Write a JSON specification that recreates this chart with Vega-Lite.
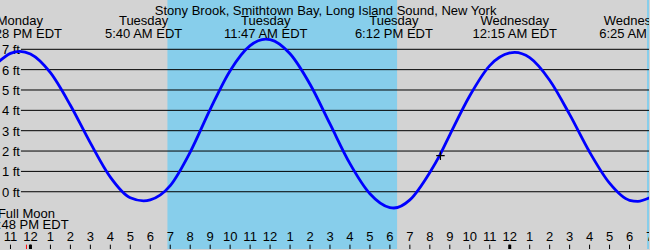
{
  "$schema": "https://vega.github.io/schema/vega-lite/v6.json",
  "width": 650,
  "height": 250,
  "autosize": {"type": "fit", "contains": "padding"},
  "padding": 0,
  "background": "#d3d3d3",
  "config": {
    "view": {"stroke": null, "fill": "#d3d3d3"},
    "text": {"font": "Liberation Sans", "fontSize": 13, "color": "black"}
  },
  "datasets": {
    "tide": [
      {"t": -1.6, "ft": 6.38}, {"t": -1, "ft": 6.8}, {"t": -0.53, "ft": 6.9}, {"t": 0, "ft": 6.77},
      {"t": 1, "ft": 5.85}, {"t": 2, "ft": 4.25}, {"t": 3, "ft": 2.4}, {"t": 4, "ft": 0.72},
      {"t": 5, "ft": -0.3}, {"t": 5.667, "ft": -0.45}, {"t": 6, "ft": -0.4}, {"t": 7, "ft": 0.3},
      {"t": 8, "ft": 1.95}, {"t": 9, "ft": 4.05}, {"t": 10, "ft": 5.95}, {"t": 11, "ft": 7.18},
      {"t": 11.783, "ft": 7.5}, {"t": 12, "ft": 7.48}, {"t": 13, "ft": 6.78}, {"t": 14, "ft": 5.28},
      {"t": 15, "ft": 3.33}, {"t": 16, "ft": 1.38}, {"t": 17, "ft": -0.1}, {"t": 18, "ft": -0.78},
      {"t": 18.2, "ft": -0.8}, {"t": 19, "ft": -0.4}, {"t": 20, "ft": 0.95}, {"t": 20.5, "ft": 1.8},
      {"t": 21, "ft": 2.8}, {"t": 22, "ft": 4.72}, {"t": 23, "ft": 6.2}, {"t": 24, "ft": 6.82},
      {"t": 24.25, "ft": 6.85}, {"t": 25, "ft": 6.59}, {"t": 26, "ft": 5.48}, {"t": 27, "ft": 3.8},
      {"t": 28, "ft": 1.95}, {"t": 29, "ft": 0.42}, {"t": 30, "ft": -0.42}, {"t": 30.417, "ft": -0.47},
      {"t": 31, "ft": -0.3}
    ],
    "daylight": [
      {"start": 6.86, "end": 18.36},
      {"start": 30.875, "end": 31.5}
    ],
    "grid": [
      {"ft": 0, "label": "0 ft"}, {"ft": 1, "label": "1 ft"}, {"ft": 2, "label": "2 ft"}, {"ft": 3, "label": "3 ft"},
      {"ft": 4, "label": "4 ft"}, {"ft": 5, "label": "5 ft"}, {"ft": 6, "label": "6 ft"}, {"ft": 7, "label": "7 ft"}
    ],
    "hours": [
      {"h": -1, "label": "11"}, {"h": 0, "label": "12"}, {"h": 1, "label": "1"}, {"h": 2, "label": "2"},
      {"h": 3, "label": "3"}, {"h": 4, "label": "4"}, {"h": 5, "label": "5"}, {"h": 6, "label": "6"},
      {"h": 7, "label": "7"}, {"h": 8, "label": "8"}, {"h": 9, "label": "9"}, {"h": 10, "label": "10"},
      {"h": 11, "label": "11"}, {"h": 12, "label": "12"}, {"h": 13, "label": "1"}, {"h": 14, "label": "2"},
      {"h": 15, "label": "3"}, {"h": 16, "label": "4"}, {"h": 17, "label": "5"}, {"h": 18, "label": "6"},
      {"h": 19, "label": "7"}, {"h": 20, "label": "8"}, {"h": 21, "label": "9"}, {"h": 22, "label": "10"},
      {"h": 23, "label": "11"}, {"h": 24, "label": "12"}, {"h": 25, "label": "1"}, {"h": 26, "label": "2"},
      {"h": 27, "label": "3"}, {"h": 28, "label": "4"}, {"h": 29, "label": "5"}, {"h": 30, "label": "6"},
      {"h": 31, "label": "7"}
    ],
    "header": [
      {"t": -0.53, "day": "Monday", "time": "11:28 PM EDT"},
      {"t": 5.667, "day": "Tuesday", "time": "5:40 AM EDT"},
      {"t": 11.783, "day": "Tuesday", "time": "11:47 AM EDT"},
      {"t": 18.2, "day": "Tuesday", "time": "6:12 PM EDT"},
      {"t": 24.25, "day": "Wednesday", "time": "12:15 AM EDT"},
      {"t": 30.417, "day": "Wednesday", "time": "6:25 AM EDT"}
    ],
    "moon": [
      {"t": -0.2, "name": "Full Moon", "time": "11:48 PM EDT"}
    ],
    "now": [
      {"t": 20.53, "ft": 1.77}
    ]
  },
  "layer": [
    {
      "data": {"name": "daylight"},
      "mark": {"type": "rect", "color": "#87ceeb", "clip": true},
      "encoding": {
        "x": {"field": "start", "type": "quantitative", "scale": {"domain": [-1.525, 30.975], "nice": false, "zero": false}, "axis": null},
        "x2": {"field": "end"},
        "y": {"datum": 9.423, "type": "quantitative", "scale": {"domain": [-2.814, 9.423], "nice": false, "zero": false}, "axis": null},
        "y2": {"datum": -2.814}
      }
    },
    {
      "data": {"name": "grid"},
      "mark": {"type": "rule", "color": "black", "strokeWidth": 1},
      "encoding": {
        "x": {"datum": -0.475, "type": "quantitative"},
        "x2": {"datum": 30.975},
        "y": {"field": "ft", "type": "quantitative"}
      }
    },
    {
      "data": {"name": "grid"},
      "mark": {"type": "text", "align": "right", "baseline": "middle", "dx": -1, "dy": 1},
      "encoding": {
        "x": {"datum": -0.475, "type": "quantitative"},
        "y": {"field": "ft", "type": "quantitative"},
        "text": {"field": "label"}
      }
    },
    {
      "data": {"name": "tide"},
      "mark": {"type": "line", "color": "#0000ff", "strokeWidth": 2.8, "interpolate": "monotone", "clip": true},
      "encoding": {
        "x": {"field": "t", "type": "quantitative"},
        "y": {"field": "ft", "type": "quantitative"}
      }
    },
    {
      "data": {"name": "now"},
      "mark": {"type": "point", "shape": "M-1,0H1M0,-1V1", "size": 72, "stroke": "black", "strokeWidth": 1.2, "filled": false, "opacity": 1},
      "encoding": {
        "x": {"field": "t", "type": "quantitative"},
        "y": {"field": "ft", "type": "quantitative"}
      }
    },
    {
      "data": {"values": [{"title": "Stony Brook, Smithtown Bay, Long Island Sound, New York"}]},
      "mark": {"type": "text", "align": "center", "baseline": "alphabetic"},
      "encoding": {
        "x": {"datum": 14.78, "type": "quantitative"},
        "y": {"datum": 8.71, "type": "quantitative"},
        "text": {"field": "title"}
      }
    },
    {
      "data": {"name": "header"},
      "mark": {"type": "text", "align": "center", "baseline": "alphabetic", "clip": true},
      "encoding": {
        "x": {"field": "t", "type": "quantitative"},
        "y": {"datum": 8.17, "type": "quantitative"},
        "text": {"field": "day"}
      }
    },
    {
      "data": {"name": "header"},
      "mark": {"type": "text", "align": "center", "baseline": "alphabetic", "clip": true},
      "encoding": {
        "x": {"field": "t", "type": "quantitative"},
        "y": {"datum": 7.54, "type": "quantitative"},
        "text": {"field": "time"}
      }
    },
    {
      "data": {"name": "moon"},
      "mark": {"type": "text", "align": "center", "baseline": "alphabetic", "clip": true},
      "encoding": {
        "x": {"field": "t", "type": "quantitative"},
        "y": {"datum": -1.27, "type": "quantitative"},
        "text": {"field": "name"}
      }
    },
    {
      "data": {"name": "moon"},
      "mark": {"type": "text", "align": "center", "baseline": "alphabetic", "clip": true},
      "encoding": {
        "x": {"field": "t", "type": "quantitative"},
        "y": {"datum": -1.83, "type": "quantitative"},
        "text": {"field": "time"}
      }
    },
    {
      "data": {"name": "moon"},
      "mark": {"type": "rule", "color": "red", "strokeWidth": 1},
      "encoding": {
        "x": {"field": "t", "type": "quantitative"},
        "y": {"datum": -2.6, "type": "quantitative"},
        "y2": {"datum": -2.814}
      }
    },
    {
      "data": {"name": "hours"},
      "mark": {"type": "rule", "color": "black", "strokeWidth": 1, "clip": true},
      "encoding": {
        "x": {"field": "h", "type": "quantitative"},
        "y": {"datum": -2.6, "type": "quantitative"},
        "y2": {"datum": -2.814}
      }
    },
    {
      "data": {"name": "hours"},
      "transform": [{"filter": "datum.h % 24 == 0"}],
      "mark": {"type": "rule", "color": "black", "strokeWidth": 3, "clip": true},
      "encoding": {
        "x": {"field": "h", "type": "quantitative"},
        "y": {"datum": -2.6, "type": "quantitative"},
        "y2": {"datum": -2.814}
      }
    },
    {
      "data": {"name": "hours"},
      "mark": {"type": "text", "align": "center", "baseline": "alphabetic", "clip": true},
      "encoding": {
        "x": {"field": "h", "type": "quantitative"},
        "y": {"datum": -2.4, "type": "quantitative"},
        "text": {"field": "label"}
      }
    }
  ]
}
